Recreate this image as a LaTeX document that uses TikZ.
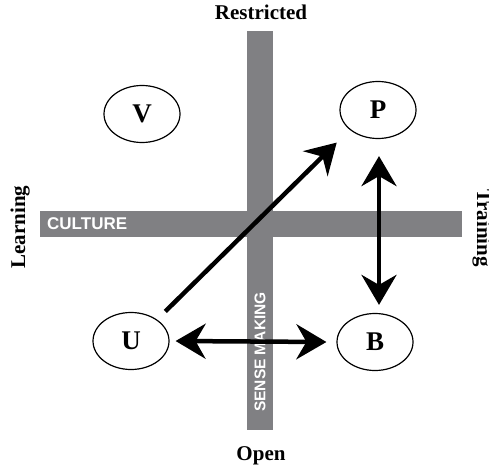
\documentclass[tikz,border=0pt]{standalone}
\usepackage{fontspec}
\setmainfont{Liberation Serif}
\setsansfont{Liberation Sans}
\usetikzlibrary{shapes.geometric}
\usetikzlibrary{arrows.meta}
\definecolor{bargray}{RGB}{128,128,131}
\tikzset{
	node_state/.style = {
		ellipse,
		draw=black,
		line width=1.2pt,
		minimum width=76pt,
		minimum height=57pt,
		inner sep=0pt,
		font=\fontsize{27}{27}\selectfont\bfseries
	},
	node_axis/.style = {
		inner sep=0pt,
		anchor=base,
		font=\fontsize{21}{21}\selectfont\bfseries
	},
	node_bar/.style = {
		inner sep=0pt,
		white,
		font=\sffamily\fontsize{17}{17}\selectfont\bfseries
	},
	arrow_big/.style = {
		line width=4.5pt,
		-{Stealth[length=30pt,width=35pt,inset=10pt]}
	},
	arrow_both/.style = {
		arrow_big,
		{Stealth[length=30pt,width=35pt,inset=10pt]}-{Stealth[length=30pt,width=35pt,inset=10pt]}
	},
}

\begin{document}
\begin{tikzpicture}[x=1pt,y=-1pt]
\useasboundingbox (0,0) rectangle (489,468);

% the two bars
\fill[bargray] (247,31) rectangle (273,430);
\fill[bargray] (40,211) rectangle (462,237);
\node [node_bar, anchor=west] (culture) at (47,224) {CULTURE};
\node [node_bar, rotate=90, font=\sffamily\fontsize{15.5}{15.5}\selectfont\bfseries] (sense) at (260,352) {SENSE MAKING};

% axis labels
\node [node_axis] (restricted) at (261,20) {Restricted};
\node [node_axis] (open) at (261,460) {Open};
\node [node_axis, rotate=90] (learning) at (25,227) {Learning};
\node [node_axis, rotate=-90] (training) at (477,228) {Training};

% quadrants
\node [node_state] (v) at (142,114) {V};
\node [node_state] (p) at (378,110) {P};
\node [node_state] (u) at (131,341) {U};
\node [node_state] (b) at (375,342) {B};

\coordinate (pb_top) at ([shift={(1,17)}]p.south);
\draw [arrow_big] ([shift={(7,-9)}]u.north east) -- ([shift={(-14,12)}]p.south west);
\draw [arrow_both, shorten >=8pt] (pb_top) -- (pb_top |- b.north);
\draw [arrow_both] ([shift={(6,0)}]u.east) -- ([shift={(-10,0)}]b.west);
\end{tikzpicture}
\end{document}
